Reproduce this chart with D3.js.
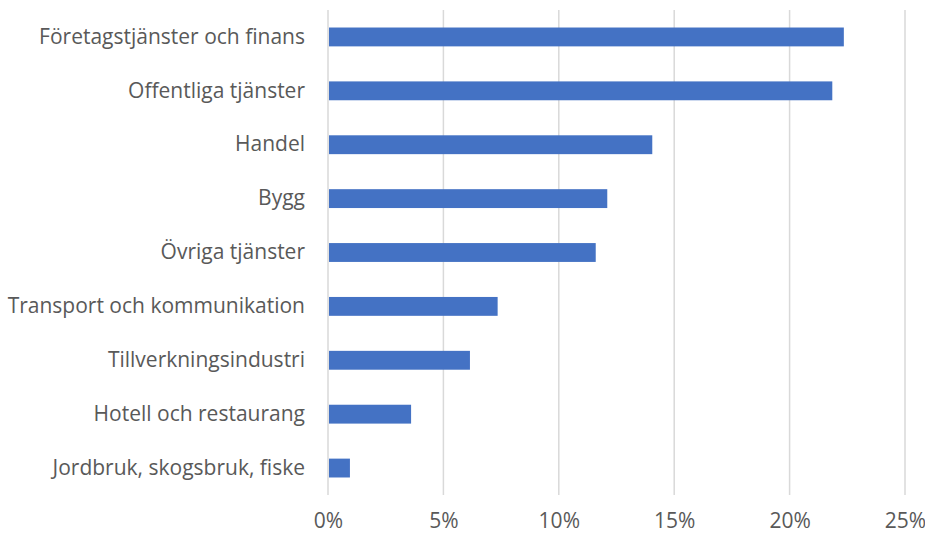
<!DOCTYPE html>
<html>
<head>
<meta charset="utf-8">
<script src="https://cdn.jsdelivr.net/npm/d3@7"></script>
<style>
  body { margin: 0; background: #fff; }
  text { font-family: "Open Sans", sans-serif; fill: #595959; }
</style>
</head>
<body>
<div id="chart"></div>
<script>
// data
var sectors = [
  "Företagstjänster och finans",
  "Offentliga tjänster",
  "Handel",
  "Bygg",
  "Övriga tjänster",
  "Transport och kommunikation",
  "Tillverkningsindustri",
  "Hotell och restaurang",
  "Jordbruk, skogsbruk, fiske"
];
var shares = [22.35, 21.85, 14.05, 12.1, 11.6, 7.35, 6.15, 3.6, 0.95];
var xTicks = [0, 5, 10, 15, 20, 25];

var svgWidth = 925;
var svgHeight = 535;

var margin = { top: 10, right: 20, bottom: 40, left: 328 };
var width = svgWidth - margin.left - margin.right;
var height = svgHeight - margin.top - margin.bottom;

var svg = d3.select("#chart")
  .append("svg")
  .attr("width", svgWidth)
  .attr("height", svgHeight);

var chartGroup = svg.append("g")
  .attr("transform", `translate(${margin.left}, ${margin.top})`);

var xScale = d3.scaleLinear()
  .domain([0, 25])
  .range([0, width]);

var yScale = d3.scaleBand()
  .domain(sectors)
  .range([0, height])
  .paddingInner(0.65)
  .paddingOuter(0.325);

// gridlines
chartGroup.selectAll(".grid")
  .data(xTicks)
  .enter()
  .append("line")
  .attr("x1", d => xScale(d))
  .attr("x2", d => xScale(d))
  .attr("y1", 0)
  .attr("y2", height)
  .attr("stroke", "#d9d9d9")
  .attr("stroke-width", 1.5);

// bars
chartGroup.selectAll(".bar")
  .data(sectors)
  .enter()
  .append("rect")
  .attr("x", xScale(0) + 1)
  .attr("y", d => yScale(d))
  .attr("width", (d, i) => xScale(shares[i]) - xScale(0) - 1)
  .attr("height", yScale.bandwidth())
  .attr("fill", "#4472C4");

// y axis labels
var leftAxis = d3.axisLeft(yScale).tickSize(0).tickPadding(23);
var yAxisG = chartGroup.append("g").call(leftAxis);
yAxisG.select(".domain").remove();
yAxisG.selectAll("text")
  .attr("font-size", "21px")
  .style("font-family", "'Open Sans', sans-serif")
  .attr("fill", "#595959");

// x axis labels
var bottomAxis = d3.axisBottom(xScale)
  .tickValues(xTicks)
  .tickFormat(d => d + "%")
  .tickSize(0)
  .tickPadding(18);
var xAxisG = chartGroup.append("g")
  .attr("transform", `translate(0, ${height})`)
  .call(bottomAxis);
xAxisG.select(".domain").remove();
xAxisG.selectAll("text")
  .attr("font-size", "21px")
  .style("font-family", "'Open Sans', sans-serif")
  .attr("fill", "#595959");
</script>
</body>
</html>
